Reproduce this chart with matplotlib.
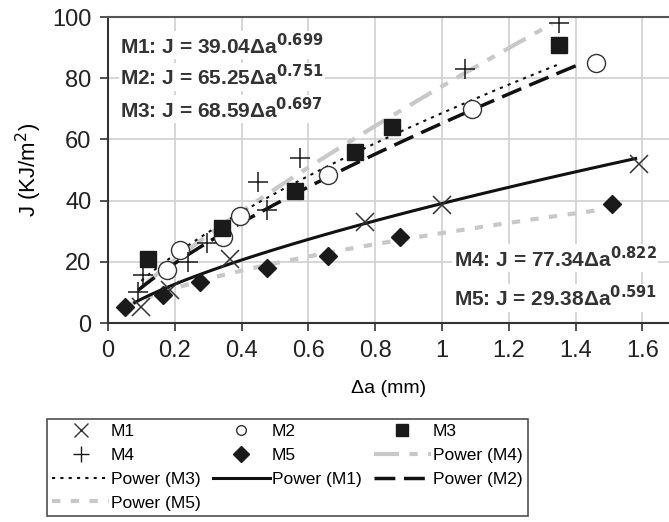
import numpy as np
import matplotlib
matplotlib.use("Agg")
import matplotlib.pyplot as plt
from matplotlib.lines import Line2D

plt.rcParams['font.family'] = ['Liberation Sans', 'DejaVu Sans']

# data
m1_x = [0.10, 0.185, 0.365, 0.77, 1.0, 1.59]
m1_y = [5.2, 10.8, 21.0, 33.0, 38.5, 52.0]
m2_x = [0.176, 0.215, 0.345, 0.395, 0.658, 1.09, 1.46]
m2_y = [17.3, 23.8, 28.0, 35.0, 48.4, 70.0, 85.0]
m3_x = [0.12, 0.34, 0.56, 0.74, 0.85, 1.35]
m3_y = [21.0, 31.0, 43.0, 56.0, 64.0, 91.0]
m4_x = [0.09, 0.105, 0.24, 0.295, 0.45, 0.475, 0.574, 1.07, 1.35]
m4_y = [10.0, 15.7, 20.0, 26.0, 46.0, 37.0, 54.0, 83.0, 98.0]
m5_x = [0.05, 0.165, 0.275, 0.475, 0.66, 0.873, 1.51]
m5_y = [5.3, 9.0, 13.4, 18.0, 22.0, 28.0, 39.0]

# power fits J = a * da^b, with x range of drawn curve
fit_a = {'M1': 39.04, 'M2': 65.25, 'M3': 68.59, 'M4': 77.34, 'M5': 29.38}
fit_b = {'M1': 0.699, 'M2': 0.751, 'M3': 0.697, 'M4': 0.822, 'M5': 0.591}
fit_rng = {'M1': (0.08, 1.58), 'M2': (0.09, 1.42), 'M3': (0.1, 1.35),
           'M4': (0.1, 1.33), 'M5': (0.06, 1.47)}

def fit(name):
    lo, hi = fit_rng[name]
    xs = np.linspace(lo, hi, 100)
    return xs, fit_a[name] * xs ** fit_b[name]

fig = plt.figure(figsize=(6.69, 5.22), dpi=100)
ax = fig.add_axes([108/669, 199/522, 561/669, 306/522])

ax.set_xlim(0, 1.68)
ax.set_ylim(0, 100)
ax.set_xticks(np.arange(0, 1.61, 0.2))
ax.set_xticklabels(['0', '0.2', '0.4', '0.6', '0.8', '1', '1.2', '1.4', '1.6'])
ax.set_yticks([0, 20, 40, 60, 80, 100])
ax.grid(True, color='#d0d0d0', lw=1.2, zorder=0)
ax.set_axisbelow(True)
ax.spines['right'].set_visible(False)
ax.spines['top'].set_color('#555555')
ax.spines['left'].set_color('#333333')
ax.spines['bottom'].set_color('#333333')
for s in ['top', 'left', 'bottom']:
    ax.spines[s].set_linewidth(1.5)
ax.tick_params(labelsize=17, length=6, width=1.2, color='#333333', labelcolor='#222222', pad=6)
ax.set_xlabel('Δa (mm)', fontsize=14, labelpad=13)
ax.set_ylabel('J (KJ/m$^2$)', fontsize=16, labelpad=6)

ax.plot(m1_x, m1_y, 'x', ms=13, mew=1.1, color='#333333', ls='none', zorder=5)
ax.plot(m2_x, m2_y, 'o', ms=13, mew=1.0, mfc='white', mec='#333333', ls='none', zorder=5)
ax.plot(m3_x, m3_y, 's', ms=11, color='#1a1a1a', ls='none', zorder=5)
ax.plot(m4_x, m4_y, '+', ms=15, mew=1.1, color='#1a1a1a', ls='none', zorder=5)
ax.plot(m5_x, m5_y, 'D', ms=9, color='#1a1a1a', ls='none', zorder=5)

x, y = fit('M4')
h_p4, = ax.plot(x, y, color='#c8c8c8', lw=3, dashes=(6, 2.5, 2, 2.5), label='Power (M4)', zorder=3)
x, y = fit('M3')
h_p3, = ax.plot(x, y, color='#111111', lw=1.5, dashes=(1.5, 2.5), label='Power (M3)', zorder=4)
x, y = fit('M1')
h_p1, = ax.plot(x, y, color='#111111', lw=2.2, label='Power (M1)', zorder=4)
x, y = fit('M2')
h_p2, = ax.plot(x, y, color='#111111', lw=2.5, dashes=(6, 2.5), label='Power (M2)', zorder=4)
x, y = fit('M5')
h_p5, = ax.plot(x, y, color='#c8c8c8', lw=3, dashes=(2, 2.5), label='Power (M5)', zorder=3)

box = dict(facecolor='white', edgecolor='none', pad=1)
eq_kw = dict(fontsize=15, fontweight='bold', color='#333333', va='center', ha='left', bbox=box, zorder=6)
ax.text(0.036, 90.8, 'M1: J = 39.04Δa$^{\\mathbf{0.699}}$', **eq_kw)
ax.text(0.036, 80.4, 'M2: J = 65.25Δa$^{\\mathbf{0.751}}$', **eq_kw)
ax.text(0.036, 69.9, 'M3: J = 68.59Δa$^{\\mathbf{0.697}}$', **eq_kw)
ax.text(1.035, 21.2, 'M4: J = 77.34Δa$^{\\mathbf{0.822}}$', **eq_kw)
ax.text(1.035, 8.2, 'M5: J = 29.38Δa$^{\\mathbf{0.591}}$', **eq_kw)

# legend markers are drawn smaller than the plotted ones
h_m1 = Line2D([], [], marker='x', ms=10, mew=1.0, color='#333333', ls='none', label='M1')
h_m2 = Line2D([], [], marker='o', ms=7, mew=1.0, mfc='white', mec='#333333', ls='none', label='M2')
h_m3 = Line2D([], [], marker='s', ms=8, color='#1a1a1a', ls='none', label='M3')
h_m4 = Line2D([], [], marker='+', ms=11, mew=1.0, color='#1a1a1a', ls='none', label='M4')
h_m5 = Line2D([], [], marker='D', ms=8, color='#1a1a1a', ls='none', label='M5')

# column-major order so rows read M1 M2 M3 / M4 M5 P(M4) / ...
handles = [h_m1, h_m4, h_p3, h_p5, h_m2, h_m5, h_p1, h_m3, h_p4, h_p2]
leg = fig.legend(handles=handles, ncol=3, loc='upper left',
                 bbox_to_anchor=(38/669, 1 - 410/522), fontsize=12.5,
                 frameon=True, fancybox=False, edgecolor='#222222',
                 handlelength=3.3, handletextpad=0.1, columnspacing=0.7,
                 labelspacing=0.5, borderpad=0.3)
leg.get_frame().set_linewidth(1.2)

fig.savefig('out.png', dpi=100)
